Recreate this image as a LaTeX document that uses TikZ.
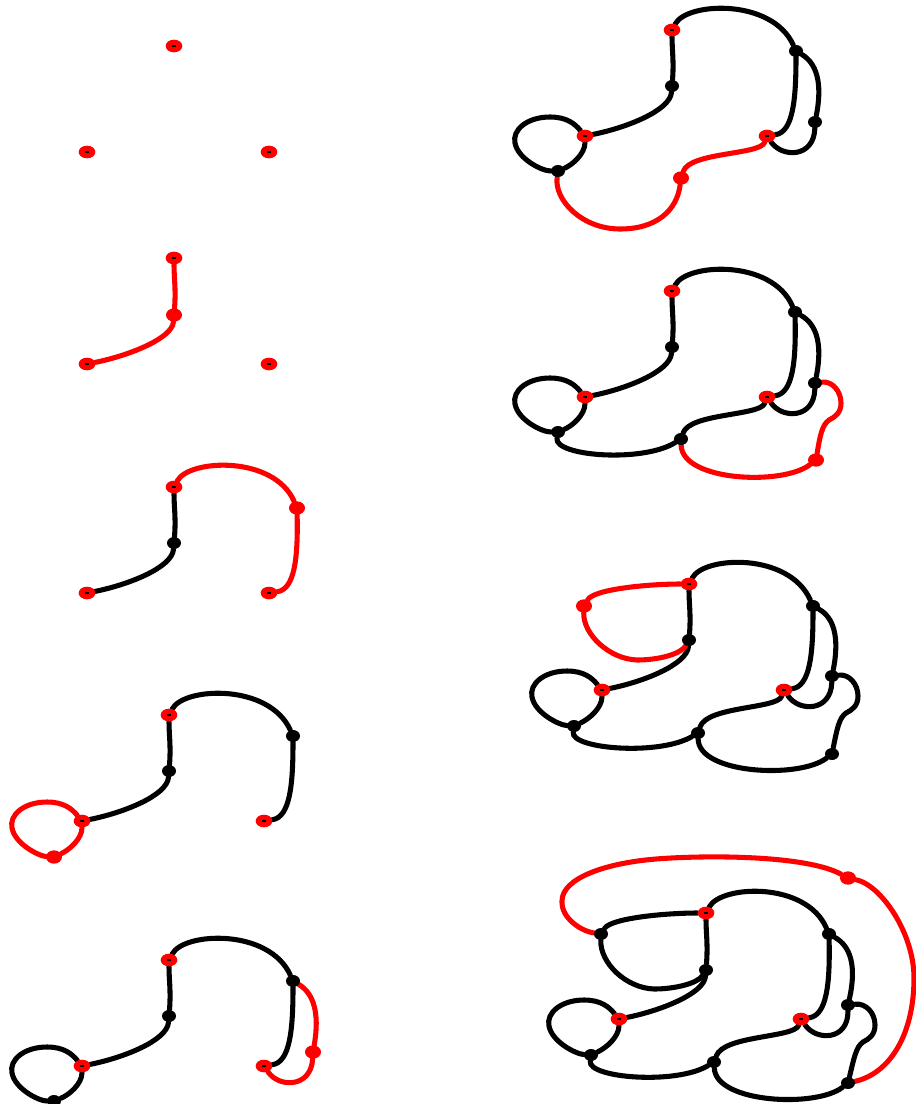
\documentclass[tikz,border=0pt]{standalone}
\usetikzlibrary{shapes.geometric,backgrounds}
\tikzset{
 vo/.style={ellipse, fill=red, minimum width=12.5pt, minimum height=9.5pt, inner sep=0pt,
   path picture={\fill[black] ([xshift=-1.5pt,yshift=-0.55pt]path picture bounding box.center) rectangle ([xshift=1.5pt,yshift=0.55pt]path picture bounding box.center);}},
 vn/.style={ellipse, fill=red, minimum width=12pt, minimum height=10pt, inner sep=0pt},
 vb/.style={ellipse, fill=black, minimum width=10.5pt, minimum height=9pt, inner sep=0pt},
 bl/.style={line width=3.8pt, line cap=round, black},
 rd/.style={line width=3.8pt, line cap=round, red},
}
\newcommand\edTM[2]{\draw[#2] (#1T) .. controls (0,20) and (2,31) .. (#1M);}
\newcommand\edML[2]{\draw[#2] (#1M) .. controls (-2,81) and (-47,98) .. (#1L);}
\newcommand\edTA[2]{\draw[#2] (#1T) .. controls (15,-28) and (100,-32) .. (#1A);}
\newcommand\edAR[2]{\draw[#2] (#1A) .. controls (124,70) and (121,102) .. (#1R);}
\newcommand\edAB[2]{\draw[#2] (#1A) .. controls (144,33) and (151,52) .. (#1B);}
\newcommand\edBR[2]{\draw[#2] (#1B) .. controls (142,128) and (110,128) .. (#1R);}
\newcommand\edLoop[2]{\draw[#2] (#1L) .. controls (-97,94) and (-105,87) .. (-122,87) .. controls (-145,87) and (-160,100) .. (-157,113) .. controls (-154,129) and (-130,141) .. (#1C);}
\newcommand\edCL[2]{\draw[#2] (#1C) .. controls (-100,135) and (-87,124) .. (#1L);}
\newcommand\edCDdeep[2]{\draw[#2] (#1C) .. controls (-118,170) and (-90,199) .. (-52,199) .. controls (-15,199) and (5,180) .. (#1D);}
\newcommand\edDR[2]{\draw[#2] (#1D) .. controls (18,122) and (88,125) .. (#1R);}
\newcommand\edCD[2]{\draw[#2] (#1C) .. controls (-118,165) and (-30,172) .. (#1D);}
\newcommand\edDE[2]{\draw[#2] (#1D) .. controls (10,190) and (110,195) .. (#1E);}
\newcommand\edBE[2]{\draw[#2] (#1B) .. controls (160,90) and (169,100) .. (169,112) .. controls (169,122) and (163,126) .. (157,129) .. controls (150,134) and (148,145) .. (#1E);}
\newcommand\edTF[2]{\draw[#2] (#1T) .. controls (-40,0) and (-95,5) .. (#1F);}
\newcommand\edFM[2]{\draw[#2] (#1F) .. controls (-106,50) and (-80,75) .. (-52,76) .. controls (-30,76) and (-8,70) .. (#1M);}
\newcommand\edFG[2]{\draw[#2] (#1F) .. controls (-125,18) and (-145,5) .. (-144,-12) .. controls (-144,-35) and (-100,-50) .. (-50,-54) .. controls (0,-58) and (100,-58) .. (#1G);}
\newcommand\edGE[2]{\draw[#2] (#1G) .. controls (175,-28) and (208,20) .. (208,65) .. controls (208,120) and (185,160) .. (#1E);}
\newcommand\basenodes[1]{%
 \node[vo] (#1T) at (0,0) {};
 \node[vo] (#1L) at (-87,106) {};
 \node[vo] (#1R) at (95,106) {};}
\begin{document}
\begin{tikzpicture}[x=0.75pt,y=-0.75pt]
\useasboundingbox (0,0) rectangle (915,1104);
% L1
\begin{scope}[shift={(174,46)}]
 \basenodes{a}
\end{scope}
% L2
\begin{scope}[shift={(174,258)}]
 \basenodes{b}
 \node[vn] (bM) at (0,57) {};
 \begin{scope}[on background layer]
  \edTM{b}{rd} \edML{b}{rd}
 \end{scope}
\end{scope}
% L3
\begin{scope}[shift={(174,487)}]
 \basenodes{c}
 \node[vb] (cM) at (0,56) {};
 \node[vn] (cA) at (123,21) {};
 \begin{scope}[on background layer]
  \edTM{c}{bl} \edML{c}{bl}
  \edTA{c}{rd} \edAR{c}{rd}
 \end{scope}
\end{scope}
% L4
\begin{scope}[shift={(169,715)}]
 \basenodes{d}
 \node[vb] (dM) at (0,56) {};
 \node[vb] (dA) at (124,21) {};
 \node[vn] (dC) at (-115,142) {};
 \begin{scope}[on background layer]
  \edTM{d}{bl} \edML{d}{bl} \edTA{d}{bl} \edAR{d}{bl}
  \edLoop{d}{rd} \edCL{d}{rd}
 \end{scope}
\end{scope}
% L5
\begin{scope}[shift={(169,960)}]
 \basenodes{e}
 \node[vb] (eM) at (0,56) {};
 \node[vb] (eA) at (124,21) {};
 \node[vb] (eC) at (-115,141) {};
 \node[vn] (eB) at (144,92) {};
 \begin{scope}[on background layer]
  \edTM{e}{bl} \edML{e}{bl} \edTA{e}{bl} \edAR{e}{bl}
  \edLoop{e}{bl} \edCL{e}{bl}
  \edAB{e}{rd} \edBR{e}{rd}
 \end{scope}
\end{scope}
% R1
\begin{scope}[shift={(672,30)}]
 \basenodes{f}
 \node[vb] (fM) at (0,56) {};
 \node[vb] (fA) at (124,21) {};
 \node[vb] (fC) at (-114,141) {};
 \node[vb] (fB) at (143,92) {};
 \node[vn] (fD) at (9,148) {};
 \begin{scope}[on background layer]
  \edTM{f}{bl} \edML{f}{bl} \edTA{f}{bl} \edAR{f}{bl}
  \edLoop{f}{bl} \edCL{f}{bl} \edAB{f}{bl} \edBR{f}{bl}
  \edCDdeep{f}{rd} \edDR{f}{rd}
 \end{scope}
\end{scope}
% R2
\begin{scope}[shift={(672,291)}]
 \basenodes{g}
 \node[vb] (gM) at (0,56) {};
 \node[vb] (gA) at (123,21) {};
 \node[vb] (gC) at (-114,141) {};
 \node[vb] (gB) at (143,92) {};
 \node[vb] (gD) at (9,148) {};
 \node[vn] (gE) at (144,169) {};
 \begin{scope}[on background layer]
  \edTM{g}{bl} \edML{g}{bl} \edTA{g}{bl} \edAR{g}{bl}
  \edLoop{g}{bl} \edCL{g}{bl} \edAB{g}{bl} \edBR{g}{bl}
  \edCD{g}{bl} \edDR{g}{bl}
  \edBE{g}{rd} \edDE{g}{rd}
 \end{scope}
\end{scope}
% R3
\begin{scope}[shift={(689,584)}]
 \basenodes{h}
 \node[vb] (hM) at (0,56) {};
 \node[vb] (hA) at (124,22) {};
 \node[vb] (hC) at (-115,142) {};
 \node[vb] (hB) at (143,92) {};
 \node[vb] (hD) at (9,149) {};
 \node[vb] (hE) at (143,170) {};
 \node[vn] (hF) at (-105,22) {};
 \begin{scope}[on background layer]
  \edTM{h}{bl} \edML{h}{bl} \edTA{h}{bl} \edAR{h}{bl}
  \edLoop{h}{bl} \edCL{h}{bl} \edAB{h}{bl} \edBR{h}{bl}
  \edCD{h}{bl} \edDR{h}{bl} \edBE{h}{bl} \edDE{h}{bl}
  \edTF{h}{rd} \edFM{h}{rd}
 \end{scope}
\end{scope}
% R4
\begin{scope}[shift={(706,913)}]
 \basenodes{i}
 \node[vb] (iM) at (0,57) {};
 \node[vb] (iA) at (123,21) {};
 \node[vb] (iC) at (-115,142) {};
 \node[vb] (iB) at (142,92) {};
 \node[vb] (iD) at (8,149) {};
 \node[vb] (iE) at (142,170) {};
 \node[vb] (iF) at (-105,21) {};
 \node[vn] (iG) at (142,-35) {};
 \begin{scope}[on background layer]
  \edTM{i}{bl} \edML{i}{bl} \edTA{i}{bl} \edAR{i}{bl}
  \edLoop{i}{bl} \edCL{i}{bl} \edAB{i}{bl} \edBR{i}{bl}
  \edCD{i}{bl} \edDR{i}{bl} \edBE{i}{bl} \edDE{i}{bl}
  \edTF{i}{bl} \edFM{i}{bl}
  \edFG{i}{rd} \edGE{i}{rd}
 \end{scope}
\end{scope}
\end{tikzpicture}
\end{document}
